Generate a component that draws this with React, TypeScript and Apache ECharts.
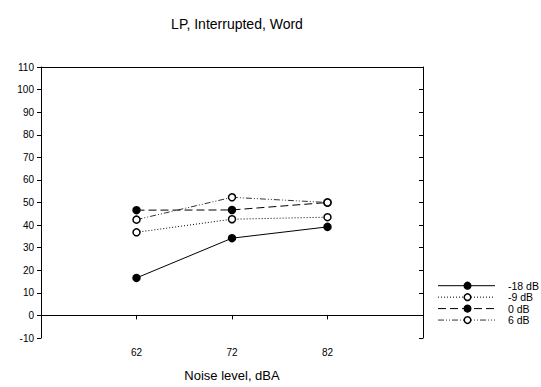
import React, { useEffect, useRef } from "react";
import * as echarts from "echarts";

const noiseLevels = [62, 72, 82];
const seriesNames = ["-18 dB", "-9 dB", "0 dB", "6 dB"];
const valsMinus18 = [16.6, 34.2, 39.2];
const valsMinus9 = [36.8, 42.6, 43.5];
const vals0 = [46.6, 46.7, 50.0];
const vals6 = [42.4, 52.3, 50.0];
const yTicks = [-10, 0, 10, 20, 30, 40, 50, 60, 70, 80, 90, 100, 110];

const FONT = "'Liberation Sans', Arial, sans-serif";

const pairs = (ys: number[]) => noiseLevels.map((x, i) => [x, ys[i]]);

type Style = { filled: boolean; dash: any; color: string };
const styles: Style[] = [
  { filled: true, dash: "solid", color: "#000" },
  { filled: false, dash: [1, 2], color: "#000" },
  { filled: true, dash: [8, 4], color: "#000" },
  { filled: false, dash: [6, 2, 1, 2, 1, 2], color: "#333" },
];

export default function App() {
  const ref = useRef<HTMLDivElement>(null);

  useEffect(() => {
    if (!ref.current) return;
    const chart = echarts.init(ref.current, undefined, { renderer: "svg" });

    const mkSeries = (name: string, data: number[], s: Style) => ({
      name,
      type: "line",
      data: pairs(data),
      symbol: "circle",
      symbolSize: 7,
      lineStyle: { color: s.color, width: 1, type: s.dash },
      itemStyle: {
        color: s.filled ? "#000" : "#fff",
        borderColor: "#000",
        borderWidth: 1.5,
      },
      emphasis: { disabled: true },
    });

    // key drawn beside the plot: a line sample, a marker and the label per series
    const keyX0 = 438;
    const keyX1 = 495;
    const keyY0 = 285.7;
    const keyStep = 11.45;
    const keyItems: any[] = [];
    seriesNames.forEach((name, i) => {
      const s = styles[i];
      const y = keyY0 + i * keyStep;
      keyItems.push(
        {
          type: "line",
          shape: { x1: keyX0, y1: y, x2: keyX1, y2: y },
          style: { stroke: s.color, lineWidth: 1, lineDash: s.dash === "solid" ? null : s.dash },
        },
        {
          type: "circle",
          shape: { cx: 467.5, cy: y, r: 3.3 },
          style: { fill: s.filled ? "#000" : "#fff", stroke: "#000", lineWidth: 1.5 },
        },
        {
          type: "text",
          x: 508,
          y,
          style: {
            text: name,
            fontSize: 10.5,
            fontFamily: FONT,
            fill: "#000",
            textVerticalAlign: "middle",
            verticalAlign: "middle",
          },
        }
      );
    });

    chart.setOption({
      animation: false,
      backgroundColor: "#fff",
      textStyle: { fontFamily: FONT },
      title: {
        text: "LP, Interrupted, Word",
        left: 232,
        textAlign: "center",
        top: 12,
        textStyle: { fontSize: 14, fontWeight: "normal", color: "#000", fontFamily: FONT },
      },
      grid: { left: 41, right: 118, top: 67, bottom: 46 },
      graphic: keyItems,
      xAxis: [
        {
          type: "value",
          min: 52,
          max: 92,
          name: "Noise level, dBA",
          nameLocation: "middle",
          nameGap: 31,
          nameTextStyle: { fontSize: 13, color: "#000", fontFamily: FONT },
          axisLine: { lineStyle: { color: "#000", width: 1 } },
          axisTick: { show: true, length: 4, customValues: noiseLevels, lineStyle: { color: "#000" } },
          axisLabel: { customValues: noiseLevels, fontSize: 10, color: "#000", margin: 9, fontFamily: FONT },
          splitLine: { show: false },
        },
        {
          type: "value",
          position: "top",
          min: 52,
          max: 92,
          axisLine: { show: true, onZero: false, lineStyle: { color: "#000", width: 1 } },
          axisTick: { show: false },
          axisLabel: { show: false },
          splitLine: { show: false },
        },
      ],
      yAxis: [
        {
          type: "value",
          min: -10,
          max: 110,
          interval: 10,
          axisLine: { show: true, onZero: false, lineStyle: { color: "#000", width: 1 } },
          axisTick: { show: true, length: 4, customValues: yTicks, lineStyle: { color: "#000" } },
          axisLabel: { fontSize: 10, color: "#000", margin: 7, fontFamily: FONT },
          splitLine: { show: false },
        },
        {
          type: "value",
          position: "right",
          min: -10,
          max: 110,
          interval: 10,
          axisLine: { show: true, onZero: false, lineStyle: { color: "#000", width: 1 } },
          axisTick: { show: true, inside: true, length: 4, lineStyle: { color: "#000" } },
          axisLabel: { show: false },
          splitLine: { show: false },
        },
      ],
      series: [
        mkSeries(seriesNames[0], valsMinus18, styles[0]),
        mkSeries(seriesNames[1], valsMinus9, styles[1]),
        mkSeries(seriesNames[2], vals0, styles[2]),
        mkSeries(seriesNames[3], vals6, styles[3]),
      ],
    });

    return () => chart.dispose();
  }, []);

  return <div ref={ref} style={{ width: 541, height: 387, position: "absolute", left: 0, top: 0 }} />;
}
